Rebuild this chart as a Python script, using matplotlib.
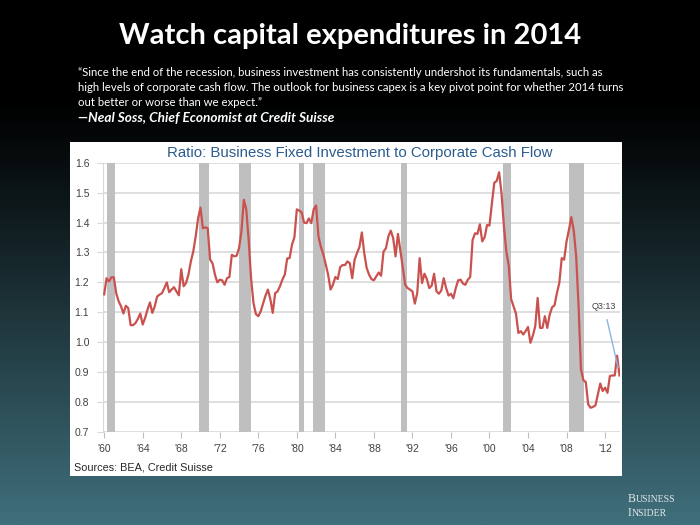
import numpy as np
import pandas as pd
import matplotlib
matplotlib.use("Agg")
import matplotlib.pyplot as plt
from matplotlib.patches import Rectangle
from matplotlib.transforms import offset_copy

# quarterly ratio, 1960Q1 .. 2013Q3
ratio = [
    1.160, 1.214, 1.203, 1.217,  1.217, 1.164, 1.137, 1.120,  1.096, 1.122, 1.114, 1.057,
    1.057, 1.064, 1.078, 1.096,  1.059, 1.081, 1.109, 1.133,  1.098, 1.120, 1.153, 1.159,
    1.164, 1.181, 1.200, 1.167,  1.176, 1.184, 1.170, 1.157,  1.244, 1.187, 1.198, 1.226,
    1.270, 1.303, 1.353, 1.414,  1.450, 1.381, 1.384, 1.381,  1.276, 1.264, 1.226, 1.200,
    1.209, 1.207, 1.192, 1.214,  1.218, 1.292, 1.287, 1.289,  1.314, 1.370, 1.476, 1.444,
    1.342, 1.214, 1.131, 1.094,  1.087, 1.103, 1.129, 1.156,  1.176, 1.144, 1.098, 1.164,
    1.170, 1.187, 1.209, 1.226,  1.280, 1.281, 1.326, 1.351,  1.444, 1.440, 1.434, 1.400,
    1.398, 1.414, 1.398, 1.444,  1.457, 1.353, 1.318, 1.294,  1.260, 1.226, 1.176, 1.192,
    1.218, 1.211, 1.251, 1.258,  1.258, 1.270, 1.264, 1.214,  1.276, 1.298, 1.318, 1.367,
    1.298, 1.248, 1.226, 1.211,  1.207, 1.220, 1.233, 1.222,  1.303, 1.314, 1.353, 1.373,
    1.348, 1.287, 1.362, 1.307,  1.250, 1.192, 1.181, 1.176,  1.170, 1.129, 1.164, 1.281,
    1.198, 1.229, 1.211, 1.181,  1.189, 1.229, 1.170, 1.162,  1.173, 1.214, 1.181, 1.156,
    1.162, 1.147, 1.181, 1.207,  1.209, 1.196, 1.192, 1.209,  1.218, 1.342, 1.364, 1.362,
    1.394, 1.337, 1.351, 1.392,  1.390, 1.464, 1.533, 1.539,  1.568, 1.498, 1.387, 1.303,
    1.256, 1.144, 1.120, 1.096,  1.031, 1.037, 1.026, 1.037,  1.051, 0.998, 1.022, 1.053,
    1.148, 1.048, 1.048, 1.087,  1.048, 1.092, 1.117, 1.123,  1.164, 1.198, 1.281, 1.276,
    1.337, 1.376, 1.418, 1.373,  1.287, 1.120, 0.909, 0.873,  0.867, 0.792, 0.781, 0.784,
    0.789, 0.826, 0.862, 0.837,  0.848, 0.831, 0.887, 0.889,  0.889, 0.955, 0.889,
]
quarters = pd.period_range("1960Q1", "2013Q3", freq="Q")

# recession shading as drawn on the chart (decimal years)
rec_start = [1960.32, 1969.87, 1974.00, 1980.22, 1981.71, 1990.81, 2001.43, 2008.29]
rec_end = [1961.12, 1970.91, 1975.24, 1980.77, 1982.96, 1991.47, 2002.23, 2009.81]

tick_years = list(range(1960, 2013, 4))
tick_labels = ["'%02d" % (y % 100) for y in tick_years]
y_ticks = [0.7, 0.8, 0.9, 1.0, 1.1, 1.2, 1.3, 1.4, 1.5, 1.6]

quote = [
    "\u201cSince the end of the recession, business investment has consistently undershot its fundamentals, such as",
    "high levels of corporate cash flow. The outlook for business capex is a key pivot point for whether 2014 turns",
    "out better or worse than we expect.\u201d",
]

W, H = 700, 525


def fx(x):
    return x / W


def fy(y):
    return 1 - y / H


fig = plt.figure(figsize=(7, 5.25), dpi=100)

# slide background gradient
bg = fig.add_axes([0, 0, 1, 1], zorder=-2)
rows = np.linspace(0, 1, 256)
t = np.clip((rows - 0.19) / 0.81, 0, 1) ** 1.1
top = np.array([0, 0, 0])
bottom = np.array([64, 112, 124]) / 255
grad = top[None, :] * (1 - t[:, None]) + bottom[None, :] * t[:, None]
bg.imshow(grad[:, None, :], aspect="auto", extent=[0, 1, 0, 1])
bg.axis("off")

fig.text(fx(350), fy(36), "Watch capital expenditures in 2014", ha="center", va="center",
         fontsize=21, weight="bold", color="white", family="Lato")
for i, line in enumerate(quote):
    fig.text(fx(77.5), fy(73 + 14.5 * i), line, ha="left", va="center",
             fontsize=8.2, color="white", family="Lato")
fig.text(fx(77.5), fy(118), "\u2014Neal Soss, Chief Economist at Credit Suisse", ha="left",
         va="center", fontsize=9.8, weight="bold", style="italic", color="white", family="Lato")

# small-caps style logo: big first letter, smaller rest
renderer = fig.canvas.get_renderer()
for word, ypos in [("BUSINESS", 498), ("INSIDER", 512)]:
    first = fig.text(fx(628), fy(ypos + 4), word[0], ha="left", va="baseline", fontsize=8.5,
                     color="#e3e9ea", family="Liberation Serif")
    w = first.get_window_extent(renderer).width
    fig.text(fx(628), fy(ypos + 4), word[1:], ha="left", va="baseline", fontsize=7,
             color="#e3e9ea", family="Liberation Serif",
             transform=offset_copy(fig.transFigure, fig=fig, x=w * 72 / fig.dpi, units="points"))

# white chart panel
fig.patches.append(Rectangle((fx(70), fy(476)), (622 - 70) / W, (476 - 142) / H,
                             transform=fig.transFigure, facecolor="white",
                             edgecolor="none", zorder=-1))
fig.text(fx(360), fy(152.5), "Ratio: Business Fixed Investment to Corporate Cash Flow",
         ha="center", va="center", fontsize=10.8, color="#2b5c8f", family="Liberation Sans")
fig.text(fx(74), fy(467), "Sources: BEA, Credit Suisse", ha="left", va="center",
         fontsize=7.8, color="#262626", family="Liberation Sans")

ax = fig.add_axes([fx(103.2), fy(432), (620 - 103.2) / W, (432 - 162.7) / H], zorder=1)
ax.patch.set_alpha(0)

x = quarters.year + (quarters.quarter - 1) / 4
for s, e in zip(rec_start, rec_end):
    ax.axvspan(s, e, color="#bfbfbf", lw=0, zorder=2)
ax.plot(x, ratio, color="#c9514e", lw=1.6, zorder=3)

ax.annotate("Q3:13", xy=(x[-1] - 0.15, 0.915), xytext=(2011.9, 1.118),
            ha="center", va="center", fontsize=6.5, color="#404040", family="Liberation Sans",
            arrowprops=dict(arrowstyle="-", color="#8db3e2", lw=1.0, shrinkA=4, shrinkB=0),
            zorder=4)

ax.set_xlim(1959.9, 2013.55)
ax.set_ylim(0.7, 1.6)
ax.set_yticks(y_ticks)
ax.set_yticklabels(["%.1f" % v for v in y_ticks])
ax.set_xticks(tick_years)
ax.set_xticklabels(tick_labels)
ax.yaxis.grid(True, color="#d9d9d9", lw=1.2, zorder=1)
ax.set_axisbelow(True)
for side in ["top", "right", "bottom"]:
    ax.spines[side].set_visible(False)
ax.spines["left"].set_color("#d9d9d9")
ax.tick_params(axis="y", length=4, color="#d9d9d9", pad=6, labelsize=7.5, labelcolor="#404040")
ax.tick_params(axis="x", length=4, color="#bfbfbf", pad=5, labelsize=7.5, labelcolor="#404040")
for lab in ax.get_xticklabels() + ax.get_yticklabels():
    lab.set_family("Liberation Sans")

fig.savefig("out.png", dpi=100)
